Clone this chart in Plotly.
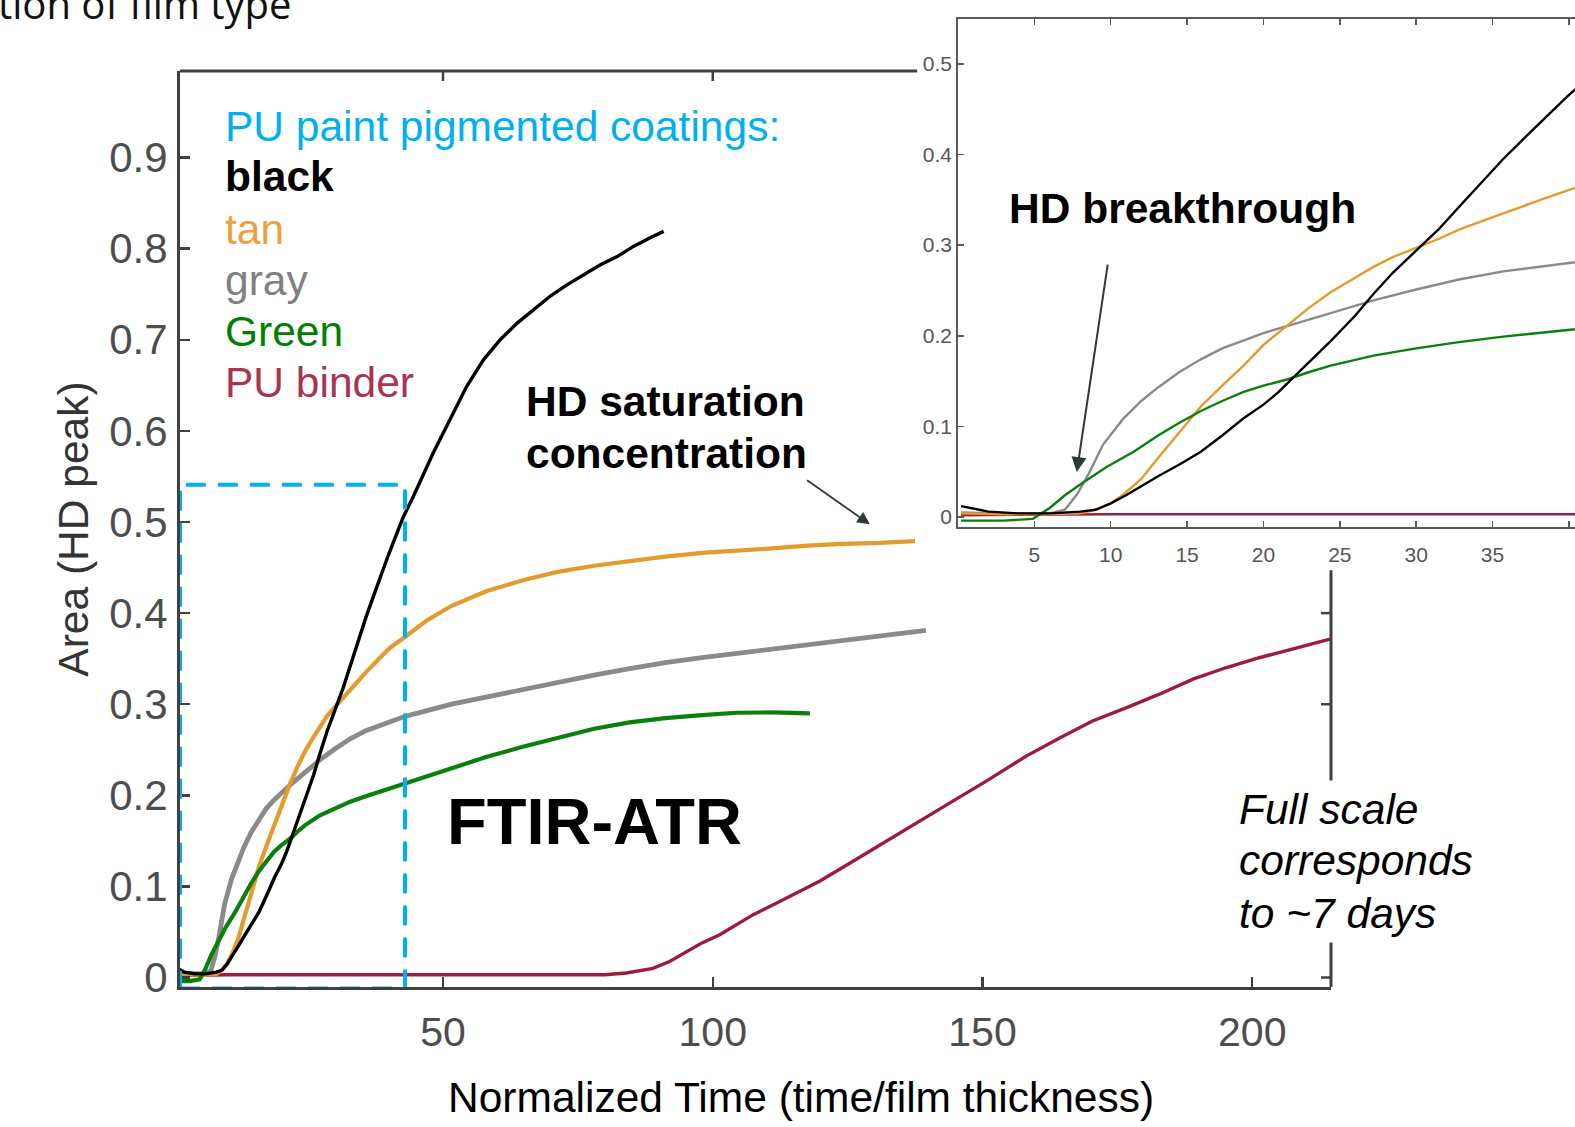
import plotly.graph_objects as go

W, H = 1575, 1127

# ---------------- data ----------------
black_x = [0.2, 2, 4, 6, 8, 9, 10, 11, 12, 13.1, 14.5, 15.9, 17.3, 18.7, 20, 21, 22.5, 24.4, 26, 27.2,
           28.5, 30, 31.5, 32.8, 34.2, 35.7, 37.5, 39.9, 42.6, 44.5, 48.2, 51.3, 54.4, 57.5, 60.6, 63.7,
           66.8, 69.9, 72.9, 76, 79.1, 82.2, 85.3, 88.4, 90.9]
black_y = [0.012, 0.006, 0.004, 0.004, 0.006, 0.008, 0.015, 0.024, 0.034, 0.045, 0.058, 0.072, 0.09,
           0.109, 0.124, 0.138, 0.163, 0.194, 0.222, 0.246, 0.27, 0.294, 0.318, 0.342, 0.368, 0.395,
           0.425, 0.464, 0.505, 0.528, 0.576, 0.612, 0.649, 0.678, 0.7, 0.718, 0.733, 0.748, 0.76,
           0.771, 0.782, 0.791, 0.8025, 0.812, 0.819]

tan_x = [0.2, 3, 6, 8, 9, 10, 10.8, 12, 13.1, 14.5, 15.9, 17.3, 18.7, 20, 21.6, 23, 24.4, 26, 27.2,
         28.5, 30, 31.5, 32.8, 34.2, 35.7, 38, 40.2, 43, 47, 51.6, 58, 64.8, 71, 78, 84, 91.2, 98,
         104.4, 111, 117.7, 124, 130.9, 137.5]
tan_y = [0.004, 0.003, 0.003, 0.004, 0.008, 0.015, 0.0245, 0.042, 0.065, 0.094, 0.122, 0.145, 0.167,
         0.19, 0.212, 0.231, 0.248, 0.264, 0.276, 0.287, 0.297, 0.307, 0.317, 0.326, 0.335, 0.349,
         0.362, 0.374, 0.392, 0.408, 0.424, 0.436, 0.445, 0.452, 0.457, 0.462, 0.466, 0.469, 0.471,
         0.474, 0.476, 0.477, 0.479]

gray_x = [0.2, 3, 6, 7, 7.8, 8.6, 9.5, 10.8, 12, 13.1, 14.5, 15.9, 17.3, 18.7, 20, 21.6, 23, 24.4, 26,
          27.2, 30, 32.8, 35.7, 38.3, 40.2, 43, 51.6, 58, 64.8, 71, 78, 84.6, 91.2, 98, 104.4, 111,
          117.7, 124, 130.9, 135, 139.5]
gray_y = [0.005, 0.004, 0.004, 0.008, 0.025, 0.049, 0.08, 0.108, 0.128, 0.143, 0.16, 0.174, 0.186,
          0.195, 0.203, 0.211, 0.218, 0.225, 0.233, 0.239, 0.251, 0.262, 0.271, 0.277, 0.281, 0.2867,
          0.3, 0.308, 0.316, 0.324, 0.332, 0.339, 0.3457, 0.351, 0.3555, 0.36, 0.365, 0.37, 0.375,
          0.378, 0.381]

green_x = [0.2, 3, 4.9, 6, 7, 8, 9.7, 11.5, 13.1, 14.5, 15.9, 17.3, 18.7, 20, 21.6, 23, 24.4, 27.2,
           30, 32.8, 35.7, 38.3, 40.2, 43, 47, 51.6, 58, 64.8, 71, 78, 84.6, 91.2, 98, 104.4, 111, 118]
green_y = [-0.004, -0.004, -0.002, 0.01, 0.024, 0.036, 0.055, 0.072, 0.09, 0.104, 0.117, 0.128, 0.138,
           0.145, 0.152, 0.16, 0.167, 0.178, 0.186, 0.193, 0.199, 0.204, 0.208, 0.214, 0.221, 0.2298,
           0.242, 0.2533, 0.263, 0.273, 0.28, 0.2848, 0.288, 0.2906, 0.291, 0.29]

binder_x = [0.2, 10, 20, 40, 60, 80, 84, 88.9, 92, 95.1, 98, 101.3, 104.4, 107.5, 113.6, 119.8, 126,
            132.2, 138.3, 144.5, 150.7, 158.1, 164.3, 170.4, 176.6, 182.8, 189, 195.1, 201.3, 207.5,
            214.4]
binder_y = [0.002, 0.003, 0.003, 0.003, 0.003, 0.003, 0.005, 0.01, 0.0176, 0.0286, 0.038, 0.047, 0.058,
            0.069, 0.087, 0.1056, 0.1276, 0.15, 0.1716, 0.1936, 0.2156, 0.243, 0.263, 0.2816, 0.296,
            0.311, 0.3275, 0.34, 0.351, 0.3605, 0.3715]

main_xticks = [50, 100, 150, 200]
main_yticks = [0, 0.1, 0.2, 0.3, 0.4, 0.5, 0.6, 0.7, 0.8, 0.9]
main_yticktext = ["0", "0.1", "0.2", "0.3", "0.4", "0.5", "0.6", "0.7", "0.8", "0.9"]
inset_xticks = [5, 10, 15, 20, 25, 30, 35, 40]
inset_yticks = [0, 0.1, 0.2, 0.3, 0.4, 0.5]
inset_yticktext = ["0", "0.1", "0.2", "0.3", "0.4", "0.5"]

series = [
    ("PU binder", binder_x, binder_y, "#9E1B3E", 3.4),
    ("gray", gray_x, gray_y, "#8A8A8A", 4.8),
    ("tan", tan_x, tan_y, "#E59A2C", 4.2),
    ("Green", green_x, green_y, "#0A7F0A", 4.2),
    ("black", black_x, black_y, "#000000", 3.4),
]

# ---------------- helpers (layout positions in pixels) ----------------
S = 1575 / 1568  # for positions


def px(xp):
    return xp / W


def py(yp):
    return 1 - yp / H


FONT = "Liberation Sans, Arial, sans-serif"
AXC = "#404040"
TS = 42.5

fig = go.Figure()
for name, xs, ys, col, wd in series:
    fig.add_trace(go.Scatter(x=xs, y=ys, mode="lines", name=name,
                             line=dict(color=col, width=wd), xaxis="x", yaxis="y",
                             showlegend=False, hoverinfo="skip"))
for name, xs, ys, col, wd in series:
    fig.add_trace(go.Scatter(x=xs, y=ys, mode="lines", name=name + " (inset)",
                             line=dict(color=col, width=2.4), xaxis="x2", yaxis="y2",
                             showlegend=False, hoverinfo="skip"))

main_x_range = [1.25, 214.6]
main_y_range = [-0.0104, 0.995]

fig.update_layout(
    width=W, height=H,
    margin=dict(l=0, r=0, t=0, b=0),
    paper_bgcolor="white", plot_bgcolor="white",
    showlegend=False,
    font=dict(family=FONT),
    xaxis=dict(domain=[px(180), px(1331)], range=main_x_range, showgrid=False, zeroline=False,
               showline=True, linecolor=AXC, linewidth=3, mirror=False,
               ticks="inside", ticklen=10, tickwidth=2.5, tickcolor=AXC,
               tickvals=main_xticks, ticktext=[str(v) for v in main_xticks],
               tickfont=dict(size=41, color="#4d4d4d", family=FONT),
               ticklabelstandoff=7, automargin=False, anchor="y", fixedrange=True),
    yaxis=dict(domain=[py(987), py(71)], range=main_y_range, showgrid=False, zeroline=False,
               showline=True, linecolor=AXC, linewidth=3, mirror=False,
               ticks="inside", ticklen=10, tickwidth=2.5, tickcolor=AXC,
               tickvals=main_yticks, ticktext=main_yticktext,
               tickfont=dict(size=42, color="#4d4d4d", family=FONT),
               ticklabelstandoff=1, automargin=False, anchor="x", fixedrange=True),
    xaxis2=dict(domain=[px(958), 1.0], range=[0, 40.4], showgrid=False, zeroline=False,
                showline=True, linecolor="#5a5a5a", linewidth=1.8, mirror="ticks",
                ticks="inside", ticklen=6, tickwidth=1.5, tickcolor="#5a5a5a",
                tickvals=inset_xticks, ticktext=[str(v) for v in inset_xticks],
                tickfont=dict(size=21, color="#555555", family=FONT),
                ticklabelstandoff=8, automargin=False, anchor="y2", fixedrange=True),
    yaxis2=dict(domain=[py(527), py(18.5)], range=[-0.011, 0.55], showgrid=False, zeroline=False,
                showline=True, linecolor="#5a5a5a", linewidth=1.8, mirror=False,
                ticks="inside", ticklen=6, tickwidth=1.5, tickcolor="#5a5a5a",
                tickvals=inset_yticks, ticktext=inset_yticktext,
                tickfont=dict(size=21, color="#555555", family=FONT),
                ticklabelstandoff=0, automargin=False, anchor="x2", fixedrange=True),
)

# ---------------- axis frame pieces of the main plot (partly hidden by inset) ----------------
shapes = []
top_end = 137.9
shapes.append(dict(type="line", xref="x", yref="y domain", x0=main_x_range[0], x1=top_end, y0=1, y1=1,
                   line=dict(color=AXC, width=3), layer="above"))
for t in [50, 100]:
    shapes.append(dict(type="line", xref="x", yref="y domain", x0=t, x1=t, y0=1, y1=1 - 10 / 916,
                       line=dict(color=AXC, width=2.5), layer="above"))
right_top = 0.447
shapes.append(dict(type="line", xref="x domain", yref="y", x0=1, x1=1, y0=main_y_range[0], y1=right_top,
                   line=dict(color=AXC, width=3), layer="above"))
for t in [0, 0.1, 0.2, 0.3, 0.4]:
    shapes.append(dict(type="line", xref="x domain", yref="y", x0=1, x1=1 - 10 / 1151, y0=t, y1=t,
                       line=dict(color=AXC, width=2.5), layer="above"))
# dashed zoom box
shapes.append(dict(type="rect", xref="x", yref="y", x0=1.25, x1=42.96, y0=-0.012, y1=0.541,
                   line=dict(color="#00B0F0", width=4, dash="20px,12px"), fillcolor="rgba(0,0,0,0)",
                   layer="above"))
fig.update_layout(shapes=shapes)


# ---------------- texts ----------------
def txt(x, y, text, size=TS, color="black", xanchor="left", yanchor="middle", family=FONT, **kw):
    return dict(x=px(x), y=py(y), xref="paper", yref="paper", text=text, showarrow=False,
                xanchor=xanchor, yanchor=yanchor, align="left",
                font=dict(size=size, color=color, family=family), **kw)


ann = [
    txt(294, 33, "as a function of film type", size=40, color="#111111", xanchor="right",
        yanchor="bottom", family="Open Sans, sans-serif"),
    txt(222 * S, 126 * S, "PU paint pigmented coatings:", color="#00B0F0"),
    txt(222 * S, 176 * S, "<b>black</b>", color="#000000"),
    txt(222 * S, 228 * S, "tan", color="#F0A03A"),
    txt(222 * S, 279 * S, "gray", color="#808080"),
    txt(222 * S, 330 * S, "Green", color="#008000"),
    txt(222 * S, 381 * S, "PU binder", color="#A8344F"),
    txt(522 * S, 400 * S, "<b>HD saturation</b>"),
    txt(522 * S, 451 * S, "<b>concentration</b>"),
    txt(443 * S, 818 * S, "<b>FTIR-ATR</b>", size=65),
    txt(1003 * S, 208 * S, "<b>HD breakthrough</b>"),
    txt(1228 * S, 806 * S, "<i>Full scale</i>", bgcolor="white", borderpad=5),
    txt(1228 * S, 857 * S, "<i>corresponds</i>", bgcolor="white", borderpad=5),
    txt(1228 * S, 909 * S, "<i>to ~7 days</i>", bgcolor="white", borderpad=5),
    txt(797 * S, 1093 * S, "Normalized Time (time/film thickness)", xanchor="center"),
    txt(73 * S, 527 * S, "Area (HD peak)", color="#333333", xanchor="center", textangle=-90),
    # arrows
    dict(x=px(866 * S), y=py(522 * S), xref="paper", yref="paper", ax=(802 - 866) * S, ay=(477 - 522) * S,
         axref="pixel", ayref="pixel", text="", showarrow=True, arrowhead=2, arrowsize=1.4,
         arrowwidth=1.8, arrowcolor="#2F3A33"),
    dict(x=px(1072 * S), y=py(470 * S), xref="paper", yref="paper", ax=(1103 - 1072) * S,
         ay=(262 - 470) * S, axref="pixel", ayref="pixel", text="", showarrow=True, arrowhead=2,
         arrowsize=1.5, arrowwidth=2, arrowcolor="#2F3A33"),
]
fig.update_layout(annotations=ann)

fig.write_html("out.html", config={"displayModeBar": False, "staticPlot": True},
               post_script="document.body.style.margin='0px';")
